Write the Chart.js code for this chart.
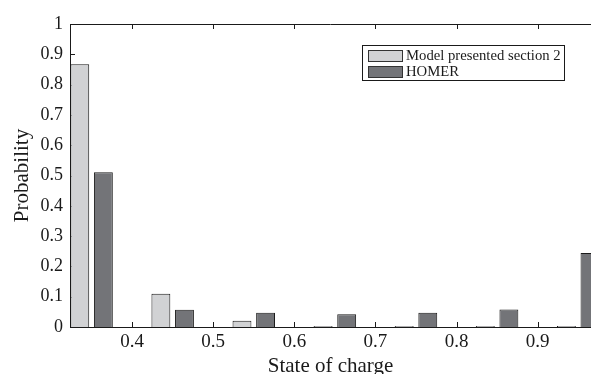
<!DOCTYPE html>
<html>
<head>
<meta charset="utf-8">
<script src="https://cdn.jsdelivr.net/npm/chart.js@4.4.0/dist/chart.umd.min.js"></script>
<style>
  html, body { margin: 0; padding: 0; background: #fff; }
  #wrap { width: 591px; height: 374px; }
</style>
</head>
<body>
<div id="wrap"><canvas id="socChart"></canvas></div>
<script>
// state of charge bins (bar group centres)
const socBins = [0.35, 0.45, 0.55, 0.65, 0.75, 0.85, 0.95];
const modelValues = [0.867, 0.110, 0.021, 0.003, 0.003, 0.003, 0.003];
const homerValues = [0.511, 0.057, 0.047, 0.042, 0.047, 0.058, 0.244];
const xTicks = [0.4, 0.5, 0.6, 0.7, 0.8, 0.9];
const yTicks = [0, 0.1, 0.2, 0.3, 0.4, 0.5, 0.6, 0.7, 0.8, 0.9, 1];

const serif = '"Liberation Serif", "Times New Roman", serif';
const ink = '#1a1a1a';

// box round the plot + matlab style ticks pointing inward
const frameTicks = {
  id: 'frameTicks',
  beforeDatasetsDraw(chart) {
    const { ctx, chartArea: a, scales: { x, y } } = chart;
    ctx.save();
    ctx.strokeStyle = ink;
    ctx.lineWidth = 1;
    ctx.beginPath();
    xTicks.forEach(v => {
      const px = Math.round(x.getPixelForValue(v)) + 0.5;
      ctx.moveTo(px, a.bottom); ctx.lineTo(px, a.bottom - 5);
      ctx.moveTo(px, a.top); ctx.lineTo(px, a.top + 5);
    });
    yTicks.forEach(v => {
      const py = Math.round(y.getPixelForValue(v)) + 0.5;
      ctx.moveTo(a.left, py); ctx.lineTo(a.left + 5, py);
    });
    ctx.moveTo(a.left, a.top + 0.5); ctx.lineTo(a.right, a.top + 0.5);
    ctx.stroke();
    ctx.restore();
  }
};

// legend box in the upper right corner
const boxLegend = {
  id: 'boxLegend',
  afterDraw(chart) {
    const { ctx } = chart;
    const left = 362, top = 45.5, w = 202, h = 35;
    ctx.save();
    ctx.fillStyle = '#fff';
    ctx.fillRect(left, top, w, h);
    ctx.strokeStyle = ink;
    ctx.lineWidth = 1;
    ctx.strokeRect(left + 0.5, top, w, h);
    ctx.font = '14.7px ' + serif;
    ctx.textBaseline = 'middle';
    chart.data.datasets.forEach((ds, i) => {
      const cy = 56 + i * 16;
      ctx.fillStyle = ds.backgroundColor;
      ctx.fillRect(368, cy - 6, 35, 12);
      ctx.strokeStyle = '#333';
      ctx.strokeRect(368.5, cy - 5.5, 34, 11);
      ctx.fillStyle = ink;
      ctx.fillText(ds.label, 406, cy + 0.5);
    });
    ctx.restore();
  }
};

new Chart(document.getElementById('socChart'), {
  type: 'bar',
  data: {
    datasets: [
      {
        label: 'Model presented section 2',
        data: socBins.map((s, i) => ({ x: s, y: modelValues[i] })),
        backgroundColor: '#d1d2d4',
        borderColor: ink,
        borderWidth: 1
      },
      {
        label: 'HOMER',
        data: socBins.map((s, i) => ({ x: s, y: homerValues[i] })),
        backgroundColor: '#737478',
        borderColor: ink,
        borderWidth: 1
      }
    ]
  },
  options: {
    responsive: true,
    maintainAspectRatio: false,
    animation: false,
    categoryPercentage: 0.582,
    barPercentage: 0.8,
    layout: { padding: { top: 24, right: 0, left: 0, bottom: 0 } },
    plugins: { legend: { display: false }, tooltip: { enabled: false } },
    scales: {
      x: {
        type: 'linear',
        offset: false,
        min: 0.3234,
        max: 0.9658,
        afterBuildTicks: s => { s.ticks = xTicks.map(v => ({ value: v })); },
        afterFit: s => { s.height = 47; },
        grid: { display: false, drawTicks: false },
        border: { display: true, color: ink, width: 1 },
        ticks: {
          padding: 4,
          color: ink,
          font: { family: serif, size: 19 },
          maxRotation: 0,
          callback: v => String(+v.toFixed(2))
        },
        title: {
          display: true,
          text: 'State of charge',
          color: ink,
          font: { family: serif, size: 21, lineHeight: 0.76 },
          padding: { top: 0, bottom: 0 }
        }
      },
      y: {
        min: 0,
        max: 1,
        afterBuildTicks: s => { s.ticks = yTicks.map(v => ({ value: v })); },
        afterFit: s => { s.width = 70; },
        grid: { display: false, drawTicks: false },
        border: { display: true, color: ink, width: 1 },
        ticks: {
          padding: 7,
          color: ink,
          font: { family: serif, size: 18 },
          callback: v => String(+v.toFixed(2))
        },
        title: {
          display: true,
          text: 'Probability',
          color: ink,
          font: { family: serif, size: 21 },
          padding: { top: 10, bottom: 0 }
        }
      }
    }
  },
  plugins: [frameTicks, boxLegend]
});
</script>
</body>
</html>
